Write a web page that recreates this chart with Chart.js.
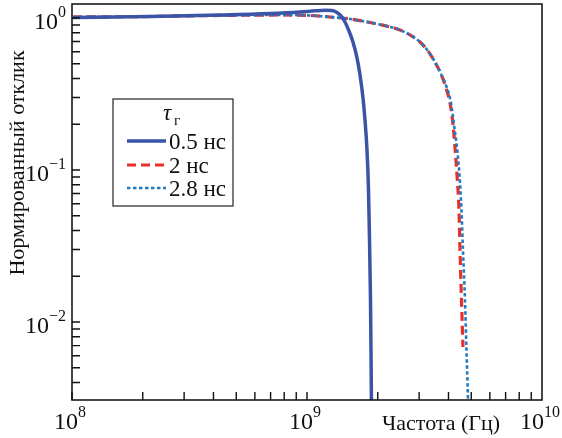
<!DOCTYPE html>
<html><head><meta charset="utf-8">
<script src="https://cdn.jsdelivr.net/npm/chart.js@4"></script>
<style>html,body{margin:0;padding:0;background:#fff}canvas{display:block}</style>
</head><body>
<canvas id="c" width="562" height="438"></canvas>
<script>
// Data
const seriesNames = ['0.5 нс', '2 нс', '2.8 нс'];
const freqA = [1.010e8, 2.147e8, 4.264e8, 6.953e8, 9.338e8, 1.083e9, 1.193e9, 1.278e9, 1.342e9, 1.395e9, 1.451e9, 1.509e9, 1.569e9, 1.633e9, 1.681e9, 1.731e9, 1.765e9, 1.800e9, 1.827e9, 1.845e9, 1.863e9, 1.872e9, 1.881e9];
const respA = [1.008, 1.023, 1.046, 1.070, 1.095, 1.115, 1.124, 1.120, 1.087, 1.031, 0.941, 0.821, 0.695, 0.545, 0.422, 0.298, 0.213, 0.1354, 0.0739, 0.0346, 0.01395, 0.00655, 0.00264];
const freqB = [1.010e8, 2.147e8, 4.264e8, 7.675e8, 1.030e9, 1.253e9, 1.524e9, 1.854e9, 2.255e9, 2.487e9, 2.744e9, 3.026e9, 3.272e9, 3.505e9, 3.717e9, 3.904e9, 4.060e9, 4.182e9, 4.265e9, 4.348e9, 4.434e9, 4.478e9, 4.543e9, 4.610e9];
const respB = [1.015, 1.023, 1.039, 1.046, 1.039, 1.015, 0.985, 0.934, 0.873, 0.834, 0.773, 0.695, 0.607, 0.513, 0.428, 0.346, 0.276, 0.198, 0.1395, 0.0927, 0.0545, 0.0298, 0.01395, 0.00685];
const freqC = [1.010e8, 2.147e8, 4.264e8, 7.675e8, 1.030e9, 1.253e9, 1.524e9, 1.854e9, 2.255e9, 2.487e9, 2.744e9, 3.026e9, 3.272e9, 3.505e9, 3.717e9, 3.942e9, 4.100e9, 4.223e9, 4.348e9, 4.456e9, 4.543e9, 4.610e9, 4.702e9, 4.771e9, 4.842e9, 4.866e9];
const respC = [1.015, 1.023, 1.039, 1.046, 1.039, 1.015, 0.985, 0.934, 0.873, 0.834, 0.773, 0.695, 0.607, 0.513, 0.428, 0.346, 0.276, 0.198, 0.1395, 0.0927, 0.0545, 0.0298, 0.01395, 0.00655, 0.00316, 0.00227];
const xTickExps = [8, 9, 10];
const yTickExps = [-2, -1, 0];
const xLabel = 'Частота (Гц)';
const yLabel = 'Нормированный отклик';
const legendTitle = 'τ';
const legendTitleSub = 'г';
const xMin = 1e8, xMax = 1e10, yMin = 0.00307, yMax = 1.236;

const SERIF = '"Liberation Serif", "DejaVu Serif", serif';
const toPts = (xs, ys) => xs.map((x, i) => ({x: x, y: ys[i]}));

const styles = [
  {color: '#3a55a8', width: 3.5, dash: []},
  {color: '#e8302a', width: 3.2, dash: [9, 5]},
  {color: '#1f7cc4', width: 2.6, dash: [3.5, 2.5]}
];

const decor = {
  id: 'decor',
  afterDraw(chart) {
    const ctx = chart.ctx, a = chart.chartArea;
    const xs = chart.scales.x, ys = chart.scales.y;
    ctx.save();
    // frame
    ctx.strokeStyle = '#1a1a1a';
    ctx.lineWidth = 1.6;
    ctx.strokeRect(a.left, a.top, a.right - a.left, a.bottom - a.top);
    // inward ticks
    ctx.lineWidth = 1.4;
    ctx.strokeStyle = '#111';
    ctx.beginPath();
    for (let e = -3; e <= 0; e++) {
      for (let m = 1; m <= 9; m++) {
        const v = m * Math.pow(10, e);
        if (v < yMin || v > yMax) continue;
        const py = ys.getPixelForValue(v);
        ctx.moveTo(a.left, py); ctx.lineTo(a.left + 8, py);
      }
    }
    for (let e = 8; e <= 9; e++) {
      for (let m = 1; m <= 9; m++) {
        const v = m * Math.pow(10, e);
        const px = xs.getPixelForValue(v);
        ctx.moveTo(px, a.bottom); ctx.lineTo(px, a.bottom - 8);
      }
    }
    ctx.stroke();
    // tick labels
    ctx.fillStyle = '#111';
    ctx.textBaseline = 'alphabetic';
    const baseFont = '24px ' + SERIF, supFont = '16px ' + SERIF;
    const sup = s => s.replace('-', '\u2212');
    yTickExps.forEach(e => {
      const py = ys.getPixelForValue(Math.pow(10, e));
      ctx.font = supFont;
      const sw = ctx.measureText(sup(String(e))).width;
      ctx.font = baseFont;
      const bw = ctx.measureText('10').width;
      const right = a.left - 6;
      ctx.textAlign = 'left';
      ctx.fillText('10', right - sw - bw, py + 11);
      ctx.font = supFont;
      ctx.fillText(sup(String(e)), right - sw, py - 1);
    });
    xTickExps.forEach(e => {
      const px = xs.getPixelForValue(Math.pow(10, e));
      ctx.font = supFont;
      const sw = ctx.measureText(String(e)).width;
      ctx.font = baseFont;
      const bw = ctx.measureText('10').width;
      const left = px - (bw + sw) / 2 - 2;
      ctx.textAlign = 'left';
      ctx.fillText('10', left, a.bottom + 29);
      ctx.font = supFont;
      ctx.fillText(String(e), left + bw, a.bottom + 17);
    });
    // axis titles
    ctx.font = '22px ' + SERIF;
    ctx.textAlign = 'left';
    ctx.fillText(xLabel, 382, a.bottom + 30);
    ctx.save();
    ctx.translate(24, 163);
    ctx.rotate(-Math.PI / 2);
    ctx.textAlign = 'center';
    ctx.fillText(yLabel, 0, 0);
    ctx.restore();
    // legend
    const lx = 113, ly = 99, lw = 120, lh = 107;
    ctx.fillStyle = '#fff';
    ctx.fillRect(lx, ly, lw, lh);
    ctx.strokeStyle = '#222';
    ctx.lineWidth = 1.2;
    ctx.strokeRect(lx, ly, lw, lh);
    ctx.fillStyle = '#111';
    ctx.font = 'italic 23px ' + SERIF;
    ctx.textAlign = 'left';
    ctx.fillText(legendTitle, 163, 120);
    ctx.font = '15px ' + SERIF;
    ctx.fillText(legendTitleSub, 174, 125);
    const rows = [141, 165, 188];
    chart.data.datasets.forEach((ds, i) => {
      const yy = rows[i];
      ctx.save();
      ctx.strokeStyle = ds.borderColor;
      ctx.lineWidth = ds.borderWidth;
      ctx.setLineDash(ds.borderDash || []);
      ctx.beginPath();
      ctx.moveTo(127, yy); ctx.lineTo(166, yy);
      ctx.stroke();
      ctx.restore();
      ctx.font = '23px ' + SERIF;
      ctx.fillStyle = '#111';
      ctx.fillText(ds.label, 169, yy + 8);
    });
    ctx.restore();
  }
};

new Chart(document.getElementById('c'), {
  type: 'scatter',
  data: {
    datasets: [
      {label: seriesNames[0], data: toPts(freqA, respA), order: 1},
      {label: seriesNames[1], data: toPts(freqB, respB), order: 3},
      {label: seriesNames[2], data: toPts(freqC, respC), order: 2}
    ].map((d, i) => Object.assign(d, {
      showLine: true, pointRadius: 0, borderColor: styles[i].color,
      backgroundColor: styles[i].color, borderWidth: styles[i].width,
      borderDash: styles[i].dash, cubicInterpolationMode: 'monotone', fill: false
    }))
  },
  options: {
    responsive: false, animation: false, devicePixelRatio: 1,
    layout: {padding: {top: 4, right: 20, left: 0, bottom: 0}},
    plugins: {legend: {display: false}, tooltip: {enabled: false}},
    scales: {
      x: {type: 'logarithmic', min: xMin, max: xMax,
          ticks: {display: false}, grid: {display: false}, border: {display: false},
          afterFit: s => { s.height = 38; }},
      y: {type: 'logarithmic', min: yMin, max: yMax,
          ticks: {display: false}, grid: {display: false}, border: {display: false},
          afterFit: s => { s.width = 72; }}
    }
  },
  plugins: [decor]
});
</script>
</body></html>
